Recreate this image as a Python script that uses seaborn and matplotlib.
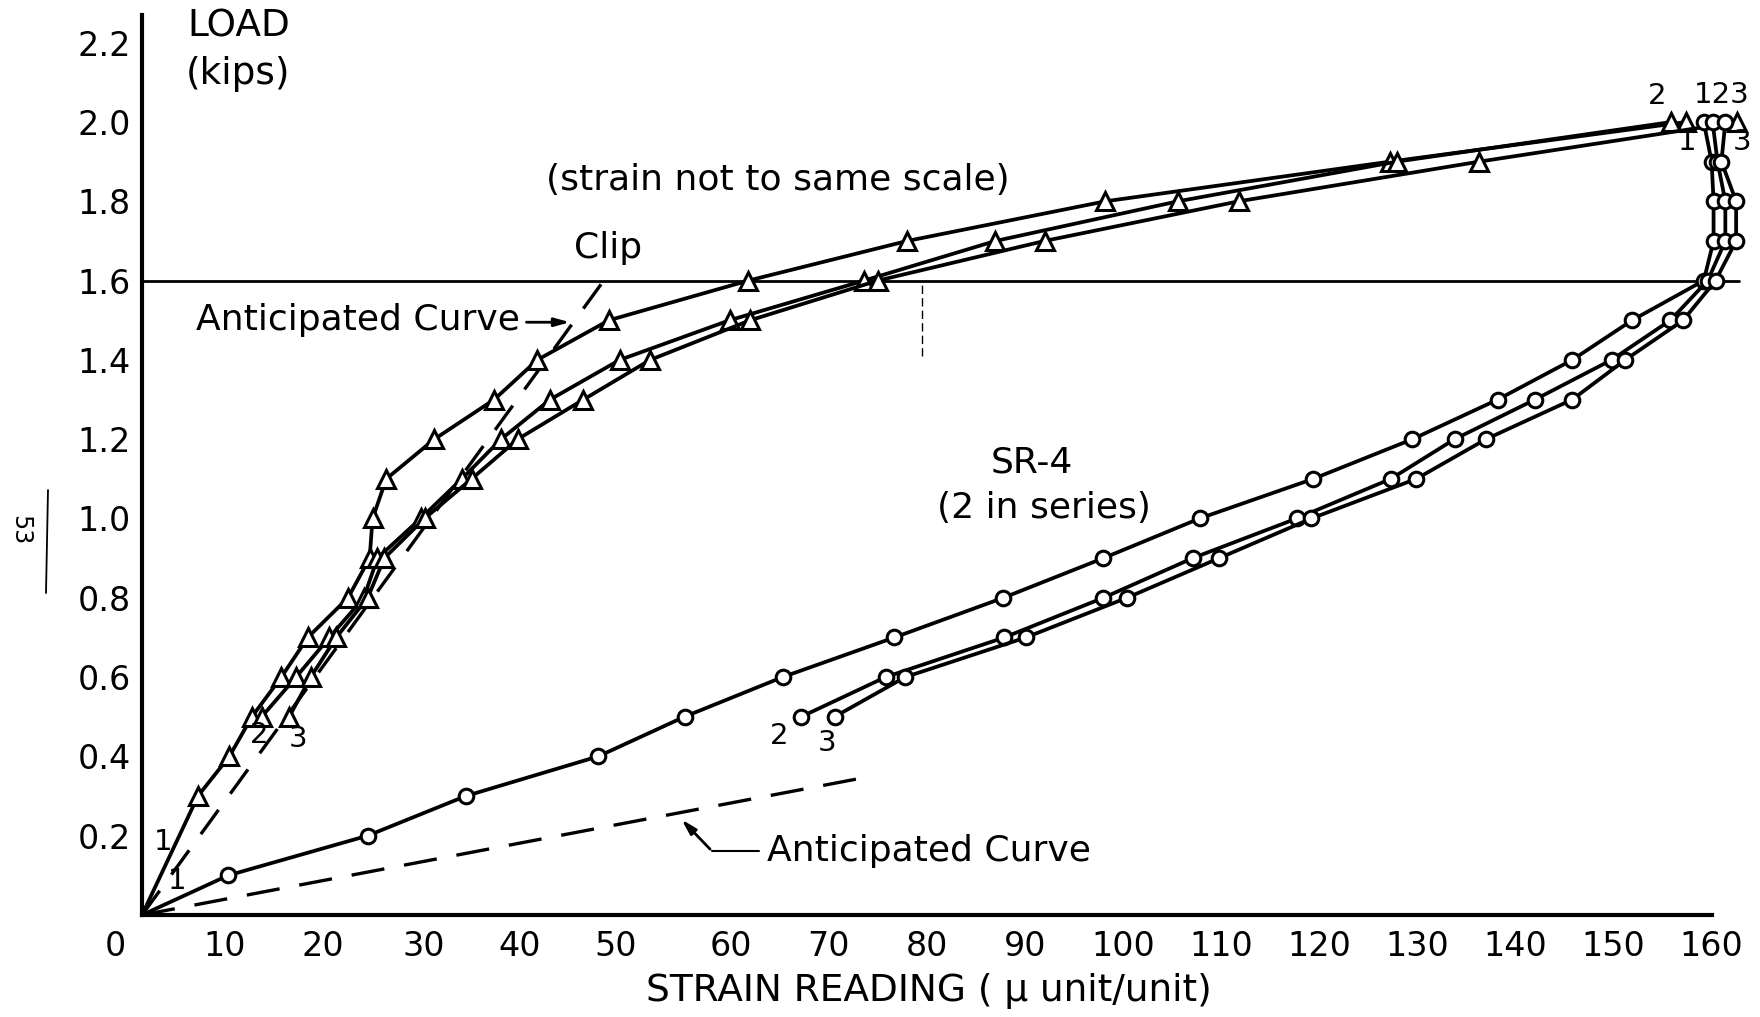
import matplotlib
matplotlib.use("Agg")
import matplotlib.pyplot as plt
import matplotlib.transforms as mtransforms
import seaborn as sns
from matplotlib.lines import Line2D

# Clip gauge readings (triangles), load in kips vs strain reading
clip_load_1 = [0.0, 0.3, 0.4, 0.5, 0.6, 0.7, 0.8, 0.9, 1.0, 1.1, 1.2,
               1.3, 1.4, 1.5, 1.6, 1.7, 1.8, 1.9, 2.0]
clip_strain_1 = [0.0, 5.7, 8.9, 11.2, 14.2, 16.9, 21.0, 23.2, 23.5, 24.9, 29.8,
                 35.9, 40.3, 47.6, 61.8, 78.0, 98.2, 127.2, 157.4]
clip_load_23 = [0.5, 0.6, 0.7, 0.8, 0.9, 1.0, 1.1, 1.2,
                1.3, 1.4, 1.5, 1.6, 1.7, 1.8, 1.9, 2.0]
clip_strain_2 = [12.2, 15.7, 19.1, 22.6, 24.0, 28.4, 32.6, 36.6,
                 41.6, 48.7, 59.9, 73.6, 87.0, 105.6, 127.9, 155.9]
clip_strain_3 = [15.0, 17.2, 19.8, 23.0, 24.7, 28.8, 33.6, 38.3,
                 45.0, 51.8, 62.0, 75.0, 92.0, 111.8, 136.3, 162.6]

# SR-4 gauge readings (circles)
sr4_load_1 = [0.0, 0.1, 0.2, 0.3, 0.4, 0.5, 0.6, 0.7, 0.8, 0.9, 1.0,
              1.1, 1.2, 1.3, 1.4, 1.5, 1.6, 1.7, 1.8, 1.9, 2.0]
sr4_strain_1 = [0.0, 8.8, 23.0, 33.0, 46.5, 55.3, 65.3, 76.7, 87.8, 98.0, 107.8,
                119.4, 129.5, 138.2, 145.8, 151.9, 159.2, 160.2, 160.2, 160.0, 159.2]
sr4_load_23 = [0.5, 0.6, 0.7, 0.8, 0.9, 1.0, 1.1, 1.2,
               1.3, 1.4, 1.5, 1.6, 1.7, 1.8, 1.9, 2.0]
sr4_strain_2 = [67.2, 75.8, 87.9, 98.0, 107.1, 117.7, 127.3, 133.8,
                142.0, 149.8, 155.8, 159.6, 161.4, 161.4, 160.6, 160.1]
sr4_strain_3 = [70.6, 77.8, 90.1, 100.4, 109.8, 119.2, 129.9, 137.0,
                145.8, 151.2, 157.1, 160.4, 162.5, 162.5, 161.0, 161.4]

# Anticipated (dashed) curves
antic_clip_strain = [0.0, 47.8]
antic_clip_load = [0.0, 1.625]
antic_sr4_strain = [0.0, 73.3]
antic_sr4_load = [0.0, 0.345]

x_ticks = list(range(0, 161, 10))
y_ticks = [0.2, 0.4, 0.6, 0.8, 1.0, 1.2, 1.4, 1.6, 1.8, 2.0, 2.2]

sns.set_style("white")
plt.rcParams["font.family"] = ["DejaVu Sans"]
plt.rcParams.update({
    "text.color": "black",
    "axes.labelcolor": "black",
    "axes.edgecolor": "black",
    "xtick.color": "black",
    "ytick.color": "black",
})

fig = plt.figure(figsize=(17.6, 10.17), dpi=100)
ax = fig.add_axes([0.0807, 0.1003, 0.9141, 0.885])

line_kw = dict(color="black", linewidth=2.7, estimator=None, sort=False,
               legend=False, ax=ax, clip_on=False,
               markerfacecolor="white", markeredgecolor="black",
               markeredgewidth=2.2)

# Clip curves
sns.lineplot(x=clip_strain_1, y=clip_load_1, marker="^", markersize=13,
             markevery=list(range(1, len(clip_load_1))), **line_kw)
sns.lineplot(x=clip_strain_2, y=clip_load_23, marker="^", markersize=13,
             **line_kw)
sns.lineplot(x=clip_strain_3, y=clip_load_23, marker="^", markersize=13,
             **line_kw)

# SR-4 curves
sns.lineplot(x=sr4_strain_1, y=sr4_load_1, marker="o", markersize=10.5,
             markevery=list(range(1, len(sr4_load_1))), **line_kw)
sns.lineplot(x=sr4_strain_2, y=sr4_load_23, marker="o", markersize=10.5,
             **line_kw)
sns.lineplot(x=sr4_strain_3, y=sr4_load_23, marker="o", markersize=10.5,
             **line_kw)

# Anticipated curves
ax.plot(antic_clip_strain, antic_clip_load, color="black", lw=2.4,
        dashes=(9, 6), zorder=1)
ax.plot(antic_sr4_strain, antic_sr4_load, color="black", lw=2.4,
        dashes=(10, 6), zorder=1)

# 1.6 kip reference line and small dashed marker
ax.plot([0, 162.8], [1.6, 1.6], color="black", lw=2.0, zorder=1)
ax.plot([79.5, 79.5], [1.41, 1.6], color="black", lw=1.0,
        dashes=(6, 3), zorder=1)

ax.set_xlim(0, 164)
ax.set_ylim(0, 2.27)
ax.set_xticks(x_ticks)
ax.set_xticklabels([str(t) for t in x_ticks])
ax.set_yticks(y_ticks)
ax.set_yticklabels([f"{t:.1f}" for t in y_ticks])
ax.tick_params(axis="x", direction="in", length=22, width=2.5,
               labelsize=24, pad=11)
ax.tick_params(axis="y", direction="in", length=18, width=2.5,
               labelsize=24, pad=8)
for side in ["top", "right"]:
    ax.spines[side].set_visible(False)
for side in ["left", "bottom"]:
    ax.spines[side].set_linewidth(3.0)
ax.spines["bottom"].set_bounds(0, 160)

# hand-lettered labels near the origin sit a little left of their ticks
label_shift = {0: -19, 10: -11, 20: -11, 30: -9, 40: -11, 50: -12}
for t, lbl in zip(x_ticks, ax.get_xticklabels()):
    if t in label_shift:
        lbl.set_transform(lbl.get_transform() + mtransforms.ScaledTranslation(
            label_shift[t] / 72, 0, fig.dpi_scale_trans))

ax.set_xlabel("STRAIN READING ( \u03bc unit/unit)", fontsize=27)
ax.xaxis.set_label_coords(80.2 / 164, -0.064)

txt = dict(fontsize=26, ha="center", va="center")
ax.text(9.9, 2.24, "LOAD", fontsize=27, ha="center", va="center")
ax.text(9.8, 2.12, "(kips)", fontsize=27, ha="center", va="center")
ax.text(64.8, 1.853, "(strain not to same scale)", **txt)
ax.text(47.5, 1.683, "Clip", **txt)
ax.text(90.7, 1.14, "SR-4", **txt)
ax.text(91.9, 1.027, "(2 in series)", **txt)
ax.text(38.5, 1.50, "Anticipated Curve", fontsize=26, ha="right",
        va="center")
ax.annotate("", xy=(43.9, 1.495), xytext=(38.9, 1.495),
            arrowprops=dict(arrowstyle="-|>,head_length=0.9,head_width=0.25",
                            color="black", lw=2))
ax.text(63.7, 0.162, "Anticipated Curve", fontsize=26, ha="left",
        va="center")
ax.plot([62.9, 58.1], [0.161, 0.161], color="black", lw=1.5)
ax.annotate("", xy=(54.8, 0.246), xytext=(58.1, 0.161),
            arrowprops=dict(arrowstyle="-|>,head_length=0.9,head_width=0.25",
                            color="black", lw=2))

# Gauge numbers
lab = dict(fontsize=21, ha="center", va="center")
ax.text(2.2, 0.185, "1", **lab)
ax.text(3.6, 0.086, "1", **lab)
ax.text(11.9, 0.455, "2", **lab)
ax.text(15.9, 0.445, "3", **lab)
ax.text(64.9, 0.452, "2", **lab)
ax.text(69.8, 0.435, "3", **lab)
ax.text(154.4, 2.065, "2", **lab)
ax.text(161.0, 2.068, "123", **lab)
ax.text(157.5, 1.95, "1", **lab)
ax.text(163.1, 1.95, "3", **lab)

# Page number in the margin
fig.text(20 / 1760, 1 - 530 / 1017, "53", rotation=-90, fontsize=17,
         ha="center", va="center")
fig.add_artist(Line2D([48 / 1760, 46 / 1760], [1 - 490 / 1017, 1 - 593 / 1017],
                      color="black", lw=1.3))

fig.savefig("out.png", dpi=100)
plt.close(fig)
